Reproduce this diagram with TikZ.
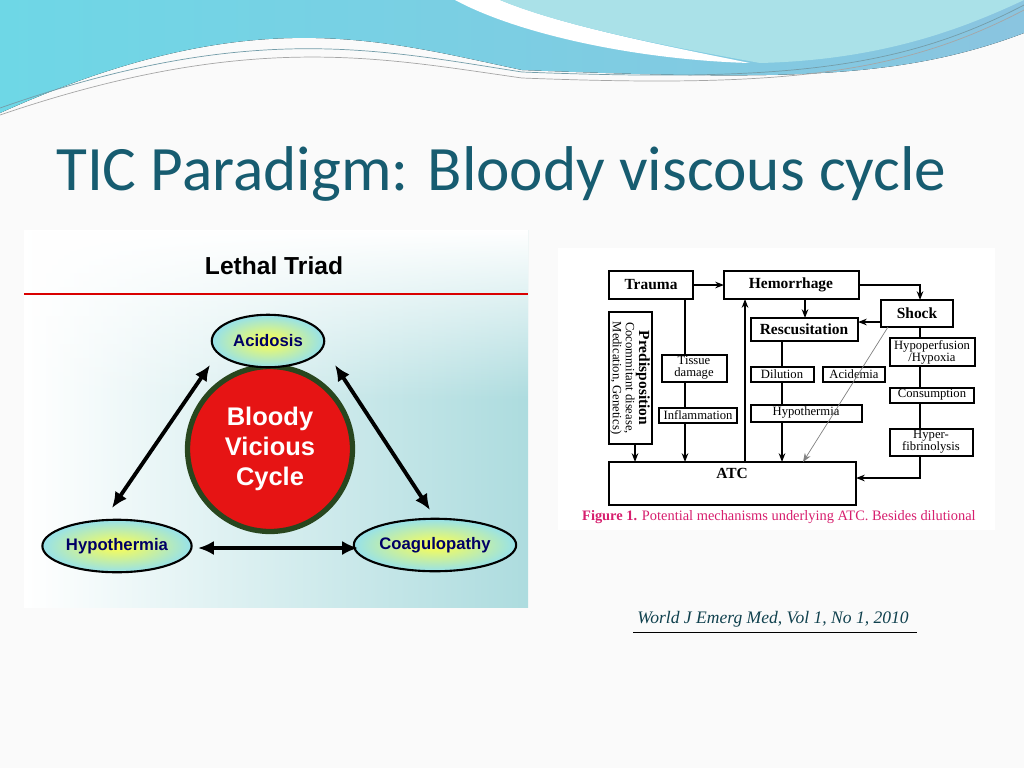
\documentclass[tikz,border=0pt]{standalone}
\usepackage{fontspec}
\setmainfont{Liberation Serif}
\newfontfamily\titlefont{Carlito}
\newfontfamily\arialfont{Liberation Sans}
\usetikzlibrary{shapes.geometric,arrows.meta,fadings}
\definecolor{titleteal}{RGB}{23,92,112}
\definecolor{wavea}{RGB}{125,190,220}
\definecolor{waveb}{RGB}{110,215,230}
\definecolor{wavec}{RGB}{170,225,232}
\definecolor{ovalfill}{RGB}{150,225,235}
\definecolor{cyclered}{RGB}{230,20,20}
\definecolor{cycledark}{RGB}{40,70,30}
\definecolor{capmagenta}{RGB}{215,30,110}
\tikzset{
  flow/.style={thick, -{Stealth[length=5pt]}},
  bigtext/.style={font=\bfseries\fontsize{8.8}{10}\selectfont},
  smalltext/.style={font=\fontsize{7.2}{6.8}\selectfont, align=center},
  triad/.style={ellipse, draw=black, very thick, inner sep=1pt, inner color=yellow!70, outer color=ovalfill, font=\arialfont\bfseries\fontsize{9.5}{11}\selectfont, text=blue!40!black},
  cyclearrow/.style={line width=2.2pt, {Latex[length=9pt,width=8pt]}-{Latex[length=9pt,width=8pt]}}
}
\begin{document}
\begin{tikzpicture}[x=0.02cm, y=-0.02cm]
\useasboundingbox (0,0) rectangle (1024,768);
\fill[white!96!gray] (0,0) rectangle (1024,768);

% header waves
\fill[left color=waveb, right color=wavea!90!white] (0,0) -- (1024,0) -- (1024,33)
  .. controls (900,80) and (780,80) .. (522,70)
  .. controls (380,40) and (250,0) .. (0,113) -- cycle;
\fill[white] (455,0) .. controls (520,35) and (640,60) .. (750,63) .. controls (660,45) and (560,25) .. (500,0) -- cycle;
\fill[wavec] (500,0) .. controls (560,25) and (660,45) .. (760,63) .. controls (880,60) and (960,30) .. (1024,0) -- cycle;
\draw[titleteal!60, thin] (0,108) .. controls (250,20) and (380,50) .. (522,72) .. controls (780,82) and (900,70) .. (1024,5);
\draw[gray!70, thin] (0,115) .. controls (250,30) and (380,58) .. (522,78) .. controls (780,88) and (900,75) .. (1024,10);

% title
\node[anchor=base west, text=titleteal, font=\titlefont\fontsize{36}{42}\selectfont] (title) at (50,190) {TIC Paradigm: Bloody viscous cycle};

% left panel
\shade[left color=white, right color=waveb!45!teal!40] (24,230) rectangle (528,607);
\fill[white, path fading=south] (24,230) rectangle (528,400);
\draw[red!85!black, line width=1.5pt] (24,294) -- (528,294);
\node[font=\arialfont\bfseries\fontsize{14}{16}\selectfont] (lethal) at (274,266) {Lethal Triad};
\node[circle, draw=cycledark, line width=3pt, fill=cyclered, minimum size=3.3cm, inner sep=0pt, align=center,
  text=white, font=\arialfont\bfseries\fontsize{14.5}{17}\selectfont] (cycle) at (270,449) {Bloody\\Vicious\\Cycle};
\node[triad, minimum width=2.25cm, minimum height=1.05cm] (acid) at (268,341) {Acidosis};
\node[triad, minimum width=2.7cm, minimum height=1.05cm] (hypo) at (117,546) {Hypothermia};
\node[triad, minimum width=2.9cm, minimum height=1.05cm] (coag) at (435,545) {Coagulopathy};
\coordinate (a1) at (210,365);
\coordinate (h2) at (112,508);
\coordinate (a2) at (335,365);
\coordinate (c2) at (430,510);
\coordinate (h3) at (198,548);
\coordinate (c3) at (358,548);
\draw[cyclearrow] (a1) -- (h2);
\draw[cyclearrow] (a2) -- (c2);
\draw[cyclearrow] (h3) -- (c3);

% right panel
\fill[white] (558,248) rectangle (995,530);
\draw[thick] (609,271) rectangle (693,299);
\node[bigtext] (trauma) at (651,285) {Trauma};
\draw[thick] (724,271) rectangle (859,299);
\node[bigtext] (hem) at (791,285) {Hemorrhage};
\draw[thick] (881,300) rectangle (953,327);
\node[bigtext] (shock) at (917,313) {Shock};
\draw[thick] (751,318) rectangle (858,341);
\node[bigtext] (resc) at (804,329) {Rescusitation};
\draw[thick] (609,312) rectangle (652,444);
\node[rotate=-90, align=center, font=\fontsize{7.2}{7.5}\selectfont] (pred) at (630,378) {\textbf{\fontsize{8.8}{9}\selectfont Predisposition}\\Cocommitant disease,\\Medication, Genetics)};
\draw[thick] (662,355) rectangle (727,382);
\node[smalltext] (tissue) at (694,368) {Tissue\\damage};
\draw[thick] (659,408) rectangle (737,423);
\node[smalltext] (infl) at (698,415) {Inflammation};
\draw[thick] (751,367) rectangle (814,382);
\node[smalltext] (dil) at (782,374) {Dilution};
\draw[thick] (823,367) rectangle (885,382);
\node[smalltext] (acidem) at (854,374) {Acidemia};
\draw[thick] (751,405) rectangle (862,422);
\node[smalltext] (hypot) at (806,412) {Hypothermia};
\draw[thick] (890,338) rectangle (975,366);
\node[smalltext] (hypop) at (932,352) {Hypoperfusion\\/Hypoxia};
\draw[thick] (890,388) rectangle (974,403);
\node[smalltext] (cons) at (932,395) {Consumption};
\draw[thick] (890,429) rectangle (973,456);
\node[smalltext] (hyperf) at (931,442) {Hyper-\\fibrinolysis};
\draw[thick] (609,462) rectangle (856,505);
\node[bigtext] (atc) at (732,473) {ATC};
\coordinate (atcr) at (856,478);

\draw[flow] (693,285) -- (724,285);
\draw[flow] (859,285) -| (920,300);
\draw[flow] (805,299) -- (805,318);
\draw[flow] (881,322) -- (858,322);
\draw[thick] (685,299) -- (685,355);
\draw[thick] (685,382) -- (685,408);
\draw[flow] (685,423) -- (685,462);
\draw[flow] (635,444) -- (635,462);
\draw[flow] (745,462) -- (745,299);
\draw[thick] (782,341) -- (782,367);
\draw[thick] (782,382) -- (782,405);
\draw[flow] (782,422) -- (782,462);
\draw[flow, gray, thin] (888,327) -- (803,462);
\draw[thick] (920,327) -- (920,338);
\draw[thick] (920,366) -- (920,388);
\draw[thick] (920,403) -- (920,429);
\draw[flow] (920,456) |- (atcr);

\node[anchor=west, text=capmagenta, font=\fontsize{8.2}{9}\selectfont] (cap) at (576,517) {\textbf{Figure 1.} Potential mechanisms underlying ATC. Besides dilutional};
\node[text=titleteal!70!black, font=\itshape\fontsize{10}{11}\selectfont] (ref) at (773,619) {World J Emerg Med, Vol 1, No 1, 2010};
\draw[thin] (633,632) -- (917,632);
\end{tikzpicture}
\end{document}
